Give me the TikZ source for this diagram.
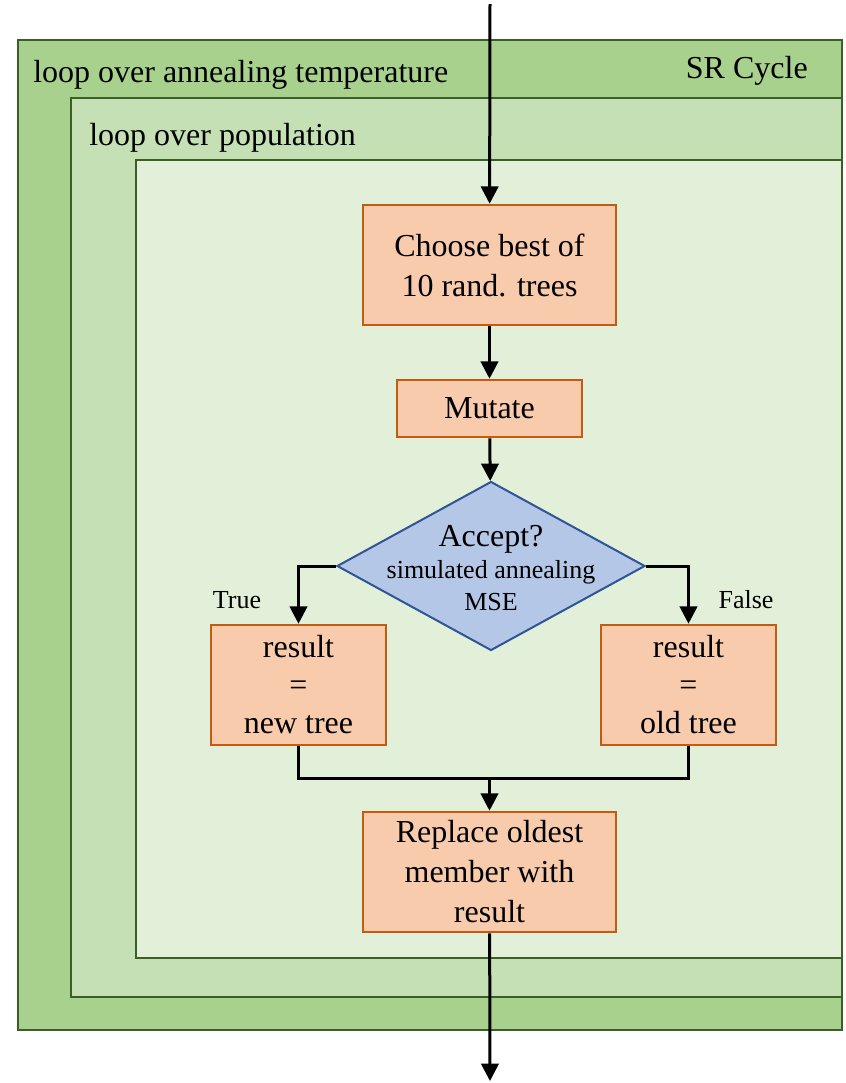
\documentclass[tikz,border=0pt]{standalone}
\usepackage{fontspec}
\setmainfont{Liberation Serif}
\usepackage{tikz}
\usetikzlibrary{arrows.meta}
\usetikzlibrary{positioning}
\usetikzlibrary{shapes.geometric}
\definecolor{loopA}{HTML}{A9D18E}
\definecolor{loopB}{HTML}{C5E0B4}
\definecolor{loopC}{HTML}{E2F0D9}
\definecolor{loopline}{HTML}{3B5E27}
\definecolor{boxfill}{HTML}{F8CBAD}
\definecolor{boxline}{HTML}{C55A11}
\definecolor{decfill}{HTML}{B4C7E7}
\definecolor{decline}{HTML}{2F5597}

\begin{document}
\begin{tikzpicture}[x=0.75pt,y=-0.75pt,
  frame/.style={draw=loopline,line width=1.9pt},
  lbl/.style={inner sep=0pt,font=\fontsize{24}{30}\selectfont},
  box/.style={draw=boxline,fill=boxfill,line width=1.9pt,align=center,inner sep=2pt,font=\fontsize{24}{30}\selectfont},
  small/.style={inner sep=0pt,font=\fontsize{19.5}{24}\selectfont},
  flow/.style={line width=2.25pt,-{Triangle[length=13pt,width=13pt]}}]
  \useasboundingbox (0,0) rectangle (846,1083);
  \draw[frame,fill=loopA](18,40) rectangle (842,1030);
  \draw[frame,fill=loopB](71,98) rectangle (842,997);
  \draw[frame,fill=loopC](136,160) rectangle (842,958);
  \node (temp) at (33,82)[lbl,anchor=base west]{loop over annealing temperature};
  \node (cyc) at (808,78)[lbl,anchor=base east]{SR Cycle};
  \node (pop) at (89,145)[lbl,anchor=base west]{loop over population};

  \coordinate (in) at (490,4);
  \node (choose) at (489.5,265)[box,minimum width=189.75pt,minimum height=90pt]{Choose best of\\10 rand. trees};
  \node (mut) at (489.5,408.5)[box,minimum width=138.75pt,minimum height=42.75pt]{Mutate};
  \node (acc) at (491,566)[diamond,draw=decline,fill=decfill,line width=1.5pt,inner sep=0pt,minimum width=231pt,minimum height=126.75pt]{};
  \node (acct) at (491,568)[small,align=center]{{\fontsize{24}{24}\selectfont Accept?}\\simulated annealing\\MSE};
  \node (new) at (298.5,685)[box,minimum width=131.25pt,minimum height=90pt,font=\fontsize{24}{28.5}\selectfont]{result\\=\\new tree};
  \node (old) at (688.5,685)[box,minimum width=131.25pt,minimum height=90pt,font=\fontsize{24}{28.5}\selectfont]{result\\=\\old tree};
  \node (tru) at (237,600)[small]{True};
  \node (fal) at (746,600)[small]{False};
  \coordinate (join) at (489.5,778);
  \node (rep) at (489.5,872)[box,minimum width=189.75pt,minimum height=90pt]{Replace oldest\\member with\\result};
  \coordinate (out) at (490,1081);

  \draw[flow](in)--(choose);
  \draw[flow](choose)--(mut);
  \draw[flow](mut)--(acc);
  \draw[flow](acc.west)-|(new.north);
  \draw[flow](acc.east)-|(old.north);
  \draw[line width=2.25pt](new.south)|-(join)-|(old.south);
  \draw[flow](join)--(rep);
  \draw[flow](rep)--(out);
\end{tikzpicture}
\end{document}
